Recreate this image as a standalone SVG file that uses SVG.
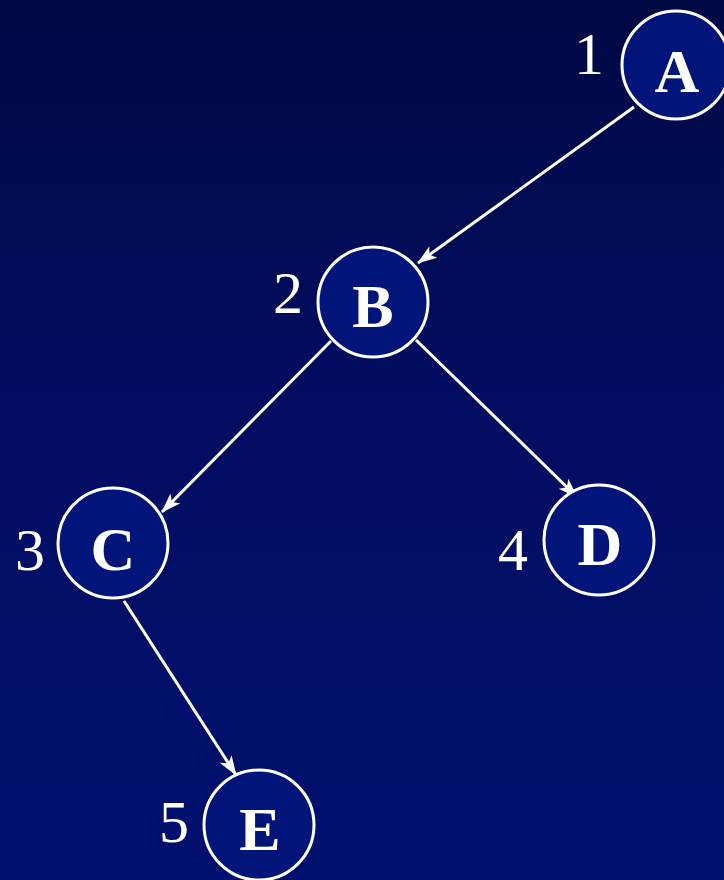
<svg xmlns="http://www.w3.org/2000/svg" width="724" height="880" viewBox="0 0 724 880">
  <defs>
    <linearGradient id="bg" x1="0" y1="0" x2="0" y2="1">
      <stop offset="0" stop-color="#000944"/>
      <stop offset="0.45" stop-color="#000d60"/>
      <stop offset="1" stop-color="#00106e"/>
    </linearGradient>
    <marker id="arrow" viewBox="0 0 20 14" refX="19" refY="7" markerWidth="20" markerHeight="14" markerUnits="userSpaceOnUse" orient="auto">
      <path d="M0,0 L20,7 L0,14 L5,7 Z" fill="#ffffff"/>
    </marker>
  </defs>
  <style>
    .node { fill: #00147a; stroke: #ffffff; stroke-width: 3; }
    .letter { font-family: "Liberation Serif", "Times New Roman", serif; font-weight: bold; font-size: 62px; fill: #ffffff; text-anchor: middle; }
    .num { font-family: "Liberation Serif", "Times New Roman", serif; font-size: 60px; fill: #ffffff; text-anchor: end; }
    .edge { stroke: #ffffff; stroke-width: 3; fill: none; marker-end: url(#arrow); }
  </style>
  <rect width="724" height="880" fill="url(#bg)"/>

  <g id="connectors">
    <line class="edge" x1="634" y1="107" x2="418" y2="263"/>
    <line class="edge" x1="331" y1="341" x2="162" y2="512"/>
    <line class="edge" x1="416" y1="340" x2="577" y2="497"/>
    <line class="edge" x1="124" y1="601" x2="236" y2="775"/>
  </g>

  <g id="node-A">
    <circle class="node" cx="676" cy="65" r="54"/>
    <text class="letter" x="677" y="92">A</text>
    <text class="num" x="604" y="74">1</text>
  </g>
  <g id="node-B">
    <circle class="node" cx="373" cy="302" r="55"/>
    <text class="letter" x="373" y="327">B</text>
    <text class="num" x="303" y="313">2</text>
  </g>
  <g id="node-C">
    <circle class="node" cx="113" cy="543" r="55"/>
    <text class="letter" x="113" y="570">C</text>
    <text class="num" x="45" y="570">3</text>
  </g>
  <g id="node-D">
    <circle class="node" cx="599" cy="540" r="55"/>
    <text class="letter" x="600" y="565">D</text>
    <text class="num" x="528" y="570">4</text>
  </g>
  <g id="node-E">
    <circle class="node" cx="259" cy="825" r="55"/>
    <text class="letter" x="260" y="850">E</text>
    <text class="num" x="189" y="842">5</text>
  </g>
</svg>
